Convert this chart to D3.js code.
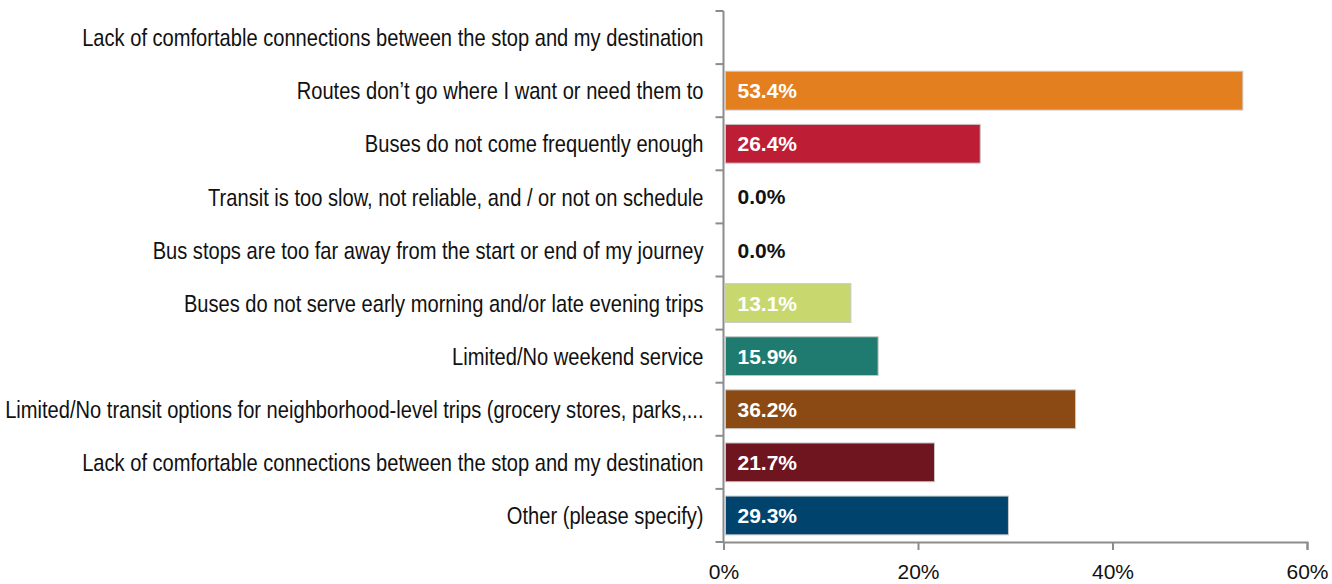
<!DOCTYPE html>
<html>
<head>
    <script src="https://d3js.org/d3.v7.min.js"></script>
    <style>
        body { margin: 0; background: #ffffff; }
        svg text { font-family: 'Liberation Sans', Arial, sans-serif; }
    </style>
</head>
<body>
    <div id="chart"></div>
    <script>
        // categories, top to bottom
        const categories = [
            "Lack of comfortable connections between the stop and my destination",
            "Routes don\u2019t go where I want or need them to",
            "Buses do not come frequently enough",
            "Transit is too slow, not reliable, and / or not on schedule",
            "Bus stops are too far away from the start or end of my journey",
            "Buses do not serve early morning and/or late evening trips",
            "Limited/No weekend service",
            "Limited/No transit options for neighborhood-level trips (grocery stores, parks,...",
            "Lack of comfortable connections between the stop and my destination",
            "Other (please specify)"
        ];
        // null = no bar and no label shown
        const values = [null, 53.4, 26.4, 0.0, 0.0, 13.1, 15.9, 36.2, 21.7, 29.3];
        const colors = ["#ffffff", "#E37F1E", "#BE1E35", "#888888", "#888888", "#C8D86F", "#1F7B6F", "#8B4A14", "#6E1520", "#00446E"];
        const xTicks = [0, 20, 40, 60];

        const width = 1332, height = 584;
        const margin = { left: 723.5, right: 25, top: 11, bottom: 42 };

        const svg = d3.select('#chart').append('svg')
            .attr('width', width)
            .attr('height', height);

        const x = d3.scaleLinear()
            .domain([0, 60])
            .range([margin.left, width - margin.right]);

        const y = d3.scaleBand()
            .domain(d3.range(categories.length))
            .range([margin.top, height - margin.bottom])
            .paddingInner(0.27)
            .paddingOuter(0.135);

        const step = y.step();
        const axisColor = '#8c8c8c';

        const rows = categories.map((c, i) => ({ c, v: values[i], color: colors[i], i }));

        // bars
        svg.append('g')
            .selectAll('rect')
            .data(rows.filter(d => d.v !== null && d.v > 0))
            .enter().append('rect')
            .attr('x', x(0) + 2)
            .attr('y', d => y(d.i))
            .attr('width', d => x(d.v) - x(0) - 2)
            .attr('height', y.bandwidth())
            .attr('fill', d => d.color)
            .attr('stroke', '#c8c8c8')
            .attr('stroke-width', 1);

        // value labels
        svg.append('g')
            .selectAll('text')
            .data(rows.filter(d => d.v !== null))
            .enter().append('text')
            .attr('x', x(0) + 14)
            .attr('y', d => y(d.i) + y.bandwidth() / 2)
            .attr('dy', '0.36em')
            .attr('font-size', '21px')
            .attr('font-weight', 'bold')
            .attr('fill', d => d.v > 0 ? '#ffffff' : '#111111')
            .text(d => d.v.toFixed(1) + '%');

        // category labels (narrow face imitated by a horizontal squeeze)
        const catLabels = svg.append('g')
            .selectAll('text')
            .data(rows)
            .enter().append('text')
            .attr('dy', '0.36em')
            .attr('text-anchor', 'end')
            .attr('font-size', '24px')
            .attr('fill', '#111111')
            .text(d => d.c);

        const longest = d3.max(catLabels.nodes(), n => n.getComputedTextLength());
        const k = 699 / longest;
        catLabels.attr('transform', d => `translate(${margin.left - 20},${y(d.i) + y.bandwidth() / 2}) scale(${k},1)`);

        // y axis line with ticks at band boundaries
        const yAxis = svg.append('g').attr('stroke', axisColor).attr('stroke-width', 2);
        yAxis.append('line')
            .attr('x1', margin.left).attr('x2', margin.left)
            .attr('y1', margin.top).attr('y2', height - margin.bottom);
        yAxis.selectAll('line.tick')
            .data(d3.range(categories.length + 1))
            .enter().append('line')
            .attr('class', 'tick')
            .attr('x1', margin.left - 8).attr('x2', margin.left)
            .attr('y1', i => margin.top + i * step)
            .attr('y2', i => margin.top + i * step);

        // x axis
        const xAxis = svg.append('g')
            .attr('transform', `translate(0,${height - margin.bottom})`)
            .call(d3.axisBottom(x).tickValues(xTicks).tickFormat(d => d + '%').tickSizeOuter(0).tickSize(8).tickPadding(14));
        xAxis.select('.domain').attr('stroke', axisColor).attr('stroke-width', 2);
        xAxis.selectAll('.tick line').attr('stroke', axisColor).attr('stroke-width', 2);
        xAxis.selectAll('.tick text')
            .attr('font-size', '21px')
            .attr('fill', '#111111')
            .style('font-family', "'Liberation Sans', Arial, sans-serif");
    </script>
</body>
</html>
